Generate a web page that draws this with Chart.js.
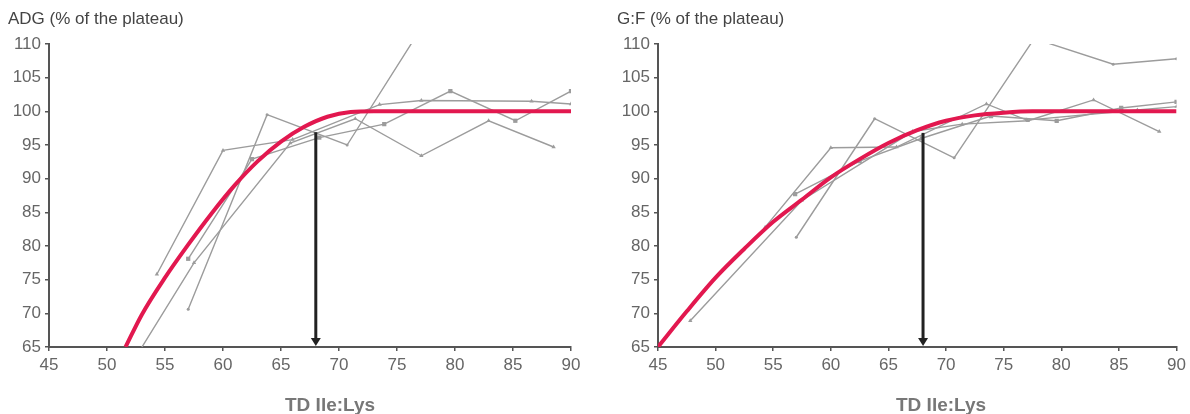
<!DOCTYPE html>
<html>
<head>
<meta charset="utf-8">
<script src="https://cdn.jsdelivr.net/npm/chart.js@4.4.1/dist/chart.umd.min.js"></script>
<style>
  body { margin: 0; background: #fff; width: 1190px; height: 414px; overflow: hidden; position: relative;
         font-family: "Liberation Sans", Arial, sans-serif; }
  canvas { position: absolute; top: 0; }
  .ytitle { position: absolute; top: 10px; font-size: 17px; line-height: 1; color: #444; }
  .xtitle { position: absolute; top: 395px; font-size: 19px; line-height: 1; font-weight: bold; color: #777; }
</style>
</head>
<body>
<canvas id="adgChart" width="595" height="414" style="left:0"></canvas>
<canvas id="gfChart" width="590" height="414" style="left:600px"></canvas>
<div class="ytitle" style="left:8px">ADG (% of the plateau)</div>
<div class="ytitle" style="left:617px">G:F (% of the plateau)</div>
<div class="xtitle" style="left:285px">TD Ile:Lys</div>
<div class="xtitle" style="left:896px">TD Ile:Lys</div>

<script>
// tick labels (both panels)
const X_TICKS = [45, 50, 55, 60, 65, 70, 75, 80, 85, 90];
const Y_TICKS = [65, 70, 75, 80, 85, 90, 95, 100, 105, 110];

// ADG panel: fitted curve
const adgFitX = [51.6, 53, 55, 57, 59, 61, 63, 65, 67, 69, 71, 73, 75, 80, 85, 90];
const adgFitY = [65, 69.8, 75.3, 80.2, 84.8, 89, 92.6, 95.5, 97.7, 99.2, 99.9, 100, 100, 100, 100, 100];
// ADG panel: individual trials
const adgSquareX = [57, 62.5, 68.3, 73.9, 79.6, 85.2, 90];
const adgSquareY = [78.1, 92.9, 96.1, 98.1, 103, 98.6, 103];
const adgTriX = [54.3, 60, 66, 73.5, 77.1, 86.6, 90];
const adgTriY = [75.8, 94.2, 95.8, 101, 101.6, 101.5, 101.1];
const adgZigX = [52.3, 57.5, 65.8, 71.4, 77.1, 82.9, 88.5];
const adgZigY = [63, 77.5, 95.3, 98.9, 93.4, 98.6, 94.7];
const adgSteepX = [57, 63.8, 70.7, 76.4];
const adgSteepY = [70.6, 99.5, 95.0, 110.5];
const adgOptimum = 68;
const adgOptimumY = 96.9;

// G:F panel: fitted curve
const gfFitX = [45, 47.5, 50, 52.5, 55, 57.5, 60, 62.5, 65, 67.5, 70, 72.5, 75, 77.5, 80, 85, 90];
const gfFitY = [65, 70.3, 75.3, 79.6, 83.6, 86.9, 90.2, 92.9, 95.3, 97.2, 98.6, 99.4, 99.8, 100, 100, 100, 100];
// G:F panel: individual trials
const gfSquareX = [56.9, 62.5, 67.9, 73.9, 79.6, 85.2, 90];
const gfSquareY = [87.7, 92.6, 96.0, 99.3, 98.6, 100.5, 101.4];
const gfTriX = [54.3, 60, 65.7, 73.5, 77, 86.6, 90];
const gfTriY = [82.8, 94.6, 94.7, 101.1, 98.7, 100.2, 100.7];
const gfZigX = [47.8, 57.5, 67.1, 71.4, 77.1, 82.8, 88.5];
const gfZigY = [68.9, 86.8, 97.0, 98.1, 98.6, 101.7, 97.0];
const gfSteepX = [57, 63.8, 70.7, 77.65, 84.5, 90];
const gfSteepY = [81.3, 98.9, 93.1, 110.8, 107.0, 107.8];
const gfOptimum = 68;
const gfOptimumY = 96.8;

const RED = "#e2184f";
const GREY = "#9c9c9c";
const AXIS = "#555";
const FONT = { family: '"Liberation Sans", Arial, sans-serif', size: 17 };

const pts = (xs, ys) => xs.map((x, i) => ({ x, y: ys[i] }));

function trial(xs, ys, style, radius) {
  return {
    data: pts(xs, ys),
    borderColor: GREY,
    borderWidth: 1.4,
    pointStyle: style,
    pointRadius: radius,
    pointBackgroundColor: GREY,
    pointBorderWidth: 0,
    clip: 0,
  };
}

// black arrow from the fitted curve down to the x axis
const arrowPlugin = {
  id: "optArrow",
  afterDatasetsDraw(chart, args, opts) {
    const ctx = chart.ctx;
    const px = chart.scales.x.getPixelForValue(opts.x);
    const top = chart.scales.y.getPixelForValue(opts.top);
    const bot = chart.scales.y.getPixelForValue(chart.scales.y.min);
    ctx.save();
    ctx.strokeStyle = "#222";
    ctx.fillStyle = "#222";
    ctx.lineWidth = 3;
    ctx.beginPath();
    ctx.moveTo(px, top);
    ctx.lineTo(px, bot - 7);
    ctx.stroke();
    ctx.beginPath();
    ctx.moveTo(px - 5, bot - 9);
    ctx.lineTo(px + 5, bot - 9);
    ctx.lineTo(px, bot - 1);
    ctx.closePath();
    ctx.fill();
    ctx.restore();
  },
};

function makeChart(id, fit, trials, arrow, yWidth, padRight) {
  return new Chart(document.getElementById(id), {
    type: "line",
    data: {
      datasets: [
        {
          data: fit,
          borderColor: RED,
          borderWidth: 4,
          pointRadius: 0,
          cubicInterpolationMode: "monotone",
          clip: 0,
        },
        ...trials,
      ],
    },
    plugins: [arrowPlugin],
    options: {
      responsive: false,
      animation: false,
      events: [],
      layout: { padding: { left: 0, right: padRight, top: 44, bottom: 27 } },
      plugins: { legend: { display: false }, tooltip: { enabled: false }, optArrow: arrow },
      scales: {
        x: {
          type: "linear",
          min: 45,
          max: 90,
          afterBuildTicks: (s) => { s.ticks = X_TICKS.map((v) => ({ value: v })); },
          afterFit: (s) => { s.height = 40; },
          border: { color: AXIS, width: 2 },
          grid: { drawOnChartArea: false, drawTicks: true, tickLength: 4, color: AXIS, lineWidth: 1.5 },
          ticks: { color: "#666", font: FONT, padding: 4, maxRotation: 0, autoSkip: false },
        },
        y: {
          type: "linear",
          min: 65,
          max: 110,
          afterBuildTicks: (s) => { s.ticks = Y_TICKS.map((v) => ({ value: v })); },
          afterFit: (s) => { s.width = yWidth; },
          border: { color: AXIS, width: 2 },
          grid: { drawOnChartArea: false, drawTicks: true, tickLength: 4, color: AXIS, lineWidth: 1.5 },
          ticks: { color: "#666", font: FONT, padding: 4, autoSkip: false },
        },
      },
    },
  });
}

makeChart("adgChart", pts(adgFitX, adgFitY), [
  trial(adgSquareX, adgSquareY, "rect", 3),
  trial(adgTriX, adgTriY, "triangle", 2.5),
  trial(adgZigX, adgZigY, "triangle", 2.5),
  trial(adgSteepX, adgSteepY, "circle", 1.5),
], { x: adgOptimum, top: adgOptimumY }, 49, 24);

makeChart("gfChart", pts(gfFitX, gfFitY), [
  trial(gfSquareX, gfSquareY, "rect", 3),
  trial(gfTriX, gfTriY, "triangle", 2.5),
  trial(gfZigX, gfZigY, "triangle", 2.5),
  trial(gfSteepX, gfSteepY, "circle", 1.5),
], { x: gfOptimum, top: gfOptimumY }, 58, 12);
</script>
</body>
</html>
